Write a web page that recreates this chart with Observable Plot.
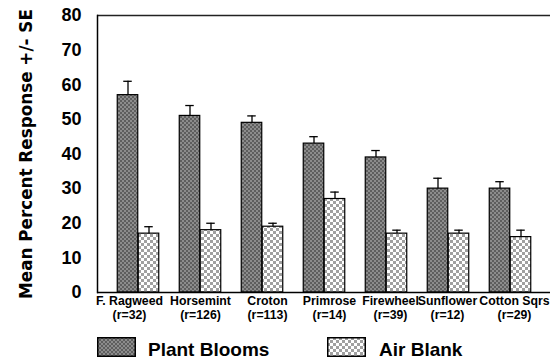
<!DOCTYPE html>
<html>
<head>
<meta charset="utf-8">
<script src="https://cdn.jsdelivr.net/npm/d3@7"></script>
<script src="https://cdn.jsdelivr.net/npm/@observablehq/plot@0.6"></script>
<style>
  html, body { margin: 0; padding: 0; background: #fff; }
  #wrap { position: relative; width: 550px; height: 360px; overflow: hidden; font-family: "Liberation Sans", Arial, sans-serif; }
  .leg { position: absolute; top: 337px; height: 20px; }
  .legtxt { position: absolute; top: 340px; font-size: 19px; font-weight: bold; line-height: 20px; color: #000; white-space: nowrap; }
</style>
</head>
<body>
<div id="wrap"></div>
<script>
const categories = ["F. Ragweed", "Horsemint", "Croton", "Primrose", "Firewheel", "Sunflower", "Cotton Sqrs"];
const sampleLabels = ["(r=32)", "(r=126)", "(r=113)", "(r=14)", "(r=39)", "(r=12)", "(r=29)"];
const bloomMean = [57, 51, 49, 43, 39, 30, 30];
const bloomSE = [4, 3, 2, 2, 2, 3, 2];
const blankMean = [17, 18, 19, 27, 17, 17, 16];
const blankSE = [2, 2, 1, 2, 1, 1, 2];
const yTicks = [0, 10, 20, 30, 40, 50, 60, 70, 80];
const seriesNames = ["Plant Blooms", "Air Blank"];
const yLabel = "Mean Percent Response +/- SE";

const rows = [];
categories.forEach((c, i) => {
  rows.push({cat: c, series: seriesNames[0], mean: bloomMean[i], se: bloomSE[i]});
  rows.push({cat: c, series: seriesNames[1], mean: blankMean[i], se: blankSE[i]});
});

// layout
const W = 550, H = 327, ML = 97, MT = 15, MB = 35;
const step = 62.5, bandStart = 104.75, barW = 21, half = step / 2, capW = 9;
const labelNudge = [-9, 0, 5, 5, 4, -1, 4];
const nudgeOf = Object.fromEntries(categories.map((c, i) => [c, labelNudge[i]]));
const sampleOf = Object.fromEntries(categories.map((c, i) => [c, sampleLabels[i]]));
const font = "Liberation Sans";

const isBloom = d => d.series === seriesNames[0];
const blooms = rows.filter(isBloom);
const blanks = rows.filter(d => !isBloom(d));

const catLabelMarks = categories.flatMap(c => [
  Plot.text([c], {x: d => d, text: d => d, frameAnchor: "bottom", lineAnchor: "top",
    dx: nudgeOf[c], dy: 4, fontSize: 12.3, fontWeight: "bold", fill: "#000"}),
  Plot.text([c], {x: d => d, text: d => sampleOf[d], frameAnchor: "bottom", lineAnchor: "top",
    dx: nudgeOf[c], dy: 17.5, fontSize: 12.3, fontWeight: "bold", fill: "#000"})
]);

const chart = Plot.plot({
  width: W, height: H,
  marginLeft: ML, marginRight: 0, marginTop: MT, marginBottom: MB,
  style: {fontFamily: font, background: "#fff", overflow: "visible"},
  x: {domain: categories, range: [bandStart, bandStart + step * categories.length], padding: 0, axis: null},
  y: {domain: [0, 80], axis: null},
  marks: [
    Plot.barY(blooms, {x: "cat", y: "mean", fill: "url(#pDark)", stroke: "#000", strokeWidth: 1.2,
      insetLeft: half - barW, insetRight: half}),
    Plot.barY(blanks, {x: "cat", y: "mean", fill: "url(#pLight)", stroke: "#000", strokeWidth: 1.2,
      insetLeft: half, insetRight: half - barW}),
    Plot.ruleX(blooms, {x: "cat", y1: "mean", y2: d => d.mean + d.se, dx: -barW / 2, stroke: "#000", strokeWidth: 1.3}),
    Plot.ruleX(blanks, {x: "cat", y1: "mean", y2: d => d.mean + d.se, dx: barW / 2, stroke: "#000", strokeWidth: 1.3}),
    Plot.tickY(blooms, {x: "cat", y: d => d.mean + d.se, stroke: "#000", strokeWidth: 1.3,
      insetLeft: half - barW / 2 - capW / 2, insetRight: half + barW / 2 - capW / 2}),
    Plot.tickY(blanks, {x: "cat", y: d => d.mean + d.se, stroke: "#000", strokeWidth: 1.3,
      insetLeft: half + barW / 2 - capW / 2, insetRight: half - barW / 2 - capW / 2}),
    Plot.ruleY([0], {stroke: "#000", strokeWidth: 1.5}),
    Plot.ruleY([80], {stroke: "#222", strokeWidth: 1.5}),
    Plot.frame({anchor: "left", stroke: "#000", strokeWidth: 1.5}),
    Plot.axisY(yTicks, {anchor: "left", tickSize: -5, tickPadding: 21, label: null,
      fontSize: 18, fontWeight: "bold", fill: "#000", stroke: null}),
    ...catLabelMarks,
    Plot.text([yLabel], {frameAnchor: "left", textAnchor: "middle", rotate: -90, dx: -71,
      fontFamily: "DejaVu Sans", fontSize: 16.8, fontWeight: "bold", fill: "#000"})
  ]
});

// patterns
const defs = d3.select(chart).insert("defs", ":first-child");
function addPatterns(sel) {
  const pd = sel.append("pattern").attr("id", "pDark").attr("patternUnits", "userSpaceOnUse").attr("width", 4).attr("height", 4);
  pd.append("rect").attr("width", 4).attr("height", 4).attr("fill", "#8c8c8c");
  pd.append("rect").attr("width", 2).attr("height", 2).attr("fill", "#5e5e5e");
  pd.append("rect").attr("x", 2).attr("y", 2).attr("width", 2).attr("height", 2).attr("fill", "#5e5e5e");
  const pl = sel.append("pattern").attr("id", "pLight").attr("patternUnits", "userSpaceOnUse").attr("width", 6).attr("height", 6);
  pl.append("rect").attr("width", 6).attr("height", 6).attr("fill", "#ffffff");
  pl.append("rect").attr("width", 3).attr("height", 3).attr("fill", "#a0a0a0");
  pl.append("rect").attr("x", 3).attr("y", 3).attr("width", 3).attr("height", 3).attr("fill", "#a0a0a0");
}
addPatterns(defs);

const wrap = document.getElementById("wrap");
wrap.appendChild(chart);

// legend
function swatch(left, fillId) {
  const svg = d3.create("svg").attr("class", "leg").attr("width", 39).attr("height", 20).style("left", left + "px");
  svg.append("rect").attr("x", 0.75).attr("y", 0.75).attr("width", 37.5).attr("height", 18.5)
    .attr("fill", `url(#${fillId})`).attr("stroke", "#000").attr("stroke-width", 1.5);
  wrap.appendChild(svg.node());
}
function legText(left, t) {
  const el = document.createElement("div");
  el.className = "legtxt";
  el.style.left = left + "px";
  el.textContent = t;
  wrap.appendChild(el);
}
swatch(97, "pDark");
legText(148, seriesNames[0]);
swatch(327, "pLight");
legText(379, seriesNames[1]);
</script>
</body>
</html>
